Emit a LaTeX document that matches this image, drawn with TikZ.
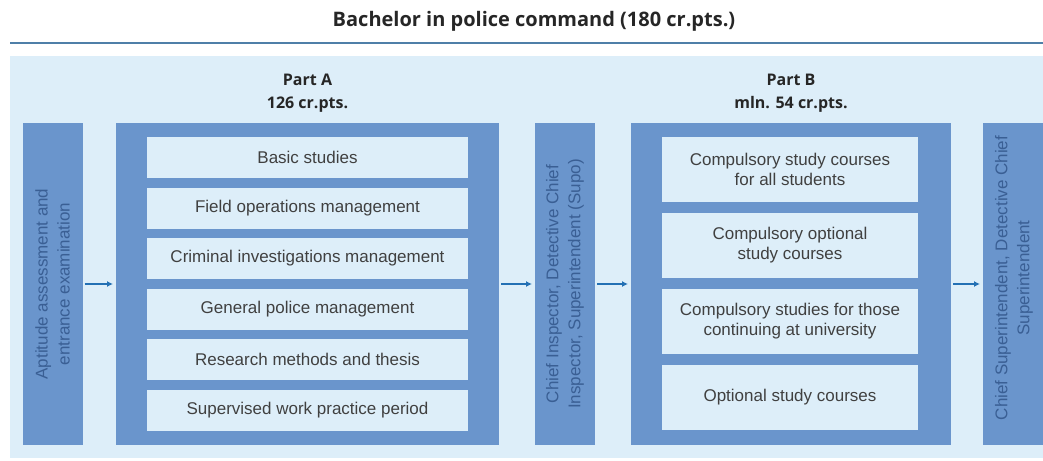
\documentclass[tikz,border=0pt]{standalone}
\usepackage{fontspec}
\setmainfont{Liberation Sans}
\newfontfamily\headfont{Open Sans}
\usetikzlibrary{arrows.meta}
\definecolor{paleblue}{HTML}{DDEEF9}
\definecolor{colblue}{HTML}{6A95CC}
\definecolor{rankblue}{HTML}{3A5F94}
\definecolor{arrowblue}{HTML}{2370B4}
\definecolor{rulecol}{HTML}{4F7FA8}
\definecolor{coursetext}{HTML}{404040}

\begin{document}
\begin{tikzpicture}[x=1pt, y=-1pt,
    rank/.style={fill=colblue, minimum width=60pt, minimum height=322pt,
      inner sep=0pt, outer sep=0pt},
    ranktext/.style={text=rankblue, rotate=90, align=center, inner sep=0pt,
      font=\fontsize{17}{22}\selectfont},
    part/.style={fill=colblue, minimum height=322pt, inner sep=0pt, outer sep=0pt},
    course/.style={fill=paleblue, text=coursetext, inner sep=0pt, outer sep=0pt,
      align=center, font=\fontsize{17}{20}\selectfont},
    coursea/.style={course, minimum width=321pt, minimum height=41pt},
    courseb/.style={course, minimum width=256pt, minimum height=65pt},
    heading/.style={align=center, text=black!85, font=\headfont\bfseries\fontsize{16}{23}\selectfont},
    arr/.style={draw=arrowblue, line width=1.2pt, -{Latex[length=6pt,width=6pt]},
      shorten <=2pt, shorten >=3pt}]
  \useasboundingbox (0,0) rectangle (1043,460);

  %%%%% title and background %%%%%
  \node[font=\headfont\bfseries\fontsize{20}{24}\selectfont, text=black!85] (title) at (534,21)
    {Bachelor in police command (180 cr.pts.)};
  \draw[rulecol, line width=1.4pt] (10,43) -- (1043,43);
  \fill[paleblue] (10,56) rectangle (1043,458);

  \node[heading] (heada) at (307.5,93) {Part A\\126 cr.pts.};
  \node[heading] (headb) at (791,93) {Part B\\mln. 54 cr.pts.};

  %%%%% columns %%%%%
  \node[rank] (entry) at (52.5,284) {};
  \node[ranktext] (entrytext) at (entry.center) {Aptitude assessment and\\entrance examination};
  \node[part, minimum width=383pt] (parta) at (307.5,284) {};
  \node[rank] (rankb) at (565,284) {};
  \node[ranktext] (rankbtext) at (rankb.center) {Chief Inspector, Detective Chief\\Inspector, Superintendent (Supo)};
  \node[part, minimum width=320pt] (partb) at (791,284) {};
  \node[rank] (rankc) at (1013,284) {};
  \node[ranktext] (rankctext) at (1014,278) {Chief Superintendent, Detective Chief\\Superintendent};

  %%%%% Part A courses %%%%%
  \node[coursea] (basic) at (307.5,157.5) {Basic studies};
  \node[coursea] (field) at (307.5,208.5) {Field operations management};
  \node[coursea] (crim) at (307.5,258.5) {Criminal investigations management};
  \node[coursea] (general) at (307.5,309.5) {General police management};
  \node[coursea] (research) at (307.5,359.5) {Research methods and thesis};
  \node[coursea] (practice) at (307.5,410.5) {Supervised work practice period};

  %%%%% Part B courses %%%%%
  \node[courseb] (compall) at (790,169.5) {Compulsory study courses\\for all students};
  \node[courseb] (compopt) at (790,245.5) {Compulsory optional\\study courses};
  \node[courseb] (compuni) at (790,321.5) {Compulsory studies for those\\continuing at university};
  \node[courseb] (optional) at (790,397.5) {Optional study courses};

  %%%%% arrows %%%%%
  \draw[arr] (entry.east) -- (parta.west);
  \draw[arr] (parta.east) -- (rankb.west);
  \draw[arr] (rankb.east) -- (partb.west);
  \draw[arr] (partb.east) -- (rankc.west);

\end{tikzpicture}
\end{document}
